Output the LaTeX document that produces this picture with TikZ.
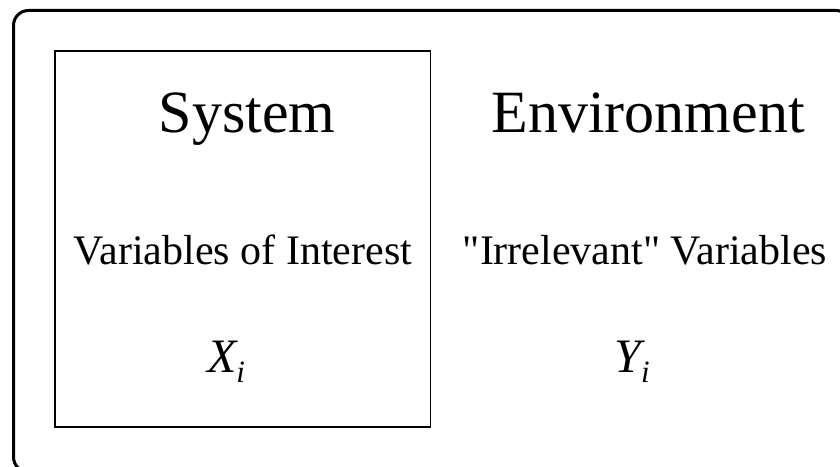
\documentclass[tikz,border=0pt]{standalone}
\usepackage{fontspec}
\setmainfont{Liberation Serif}
\newfontfamily\plainrm{Liberation Serif}[Ligatures=TeXOff]
\begin{document}
\begin{tikzpicture}[x=1pt,y=1pt,
  title/.style={anchor=base,inner sep=0pt,font=\fontsize{60}{64}\selectfont},
  label/.style={anchor=base,inner sep=0pt,font=\fontsize{42}{46}\selectfont},
  var/.style={anchor=base,inner sep=0pt,font=\fontsize{48}{52}\selectfont\itshape}]
\useasboundingbox (0,0) rectangle (840,466);
\draw[line width=3pt, rounded corners=15pt] (13.5,455.5) rectangle (851,-6) coordinate (outer);
\draw[line width=1.5pt] (55,415) rectangle (430.5,39) coordinate (inner);
\node[title] (sys) at (247,333) {System};
\node[title] (env) at (648,333) {Environment};
\node[label] (voi) at (243,201) {Variables of Interest};
\node[label] (irr) at (645,201) {\plainrm "Irrelevant" Variables};
\node[var] (x) at (226,94) {X\raisebox{-10pt}{\fontsize{31}{34}\selectfont i}};
\node[var] (y) at (632,94) {Y\raisebox{-10pt}{\fontsize{31}{34}\selectfont i}};
\end{tikzpicture}
\end{document}
